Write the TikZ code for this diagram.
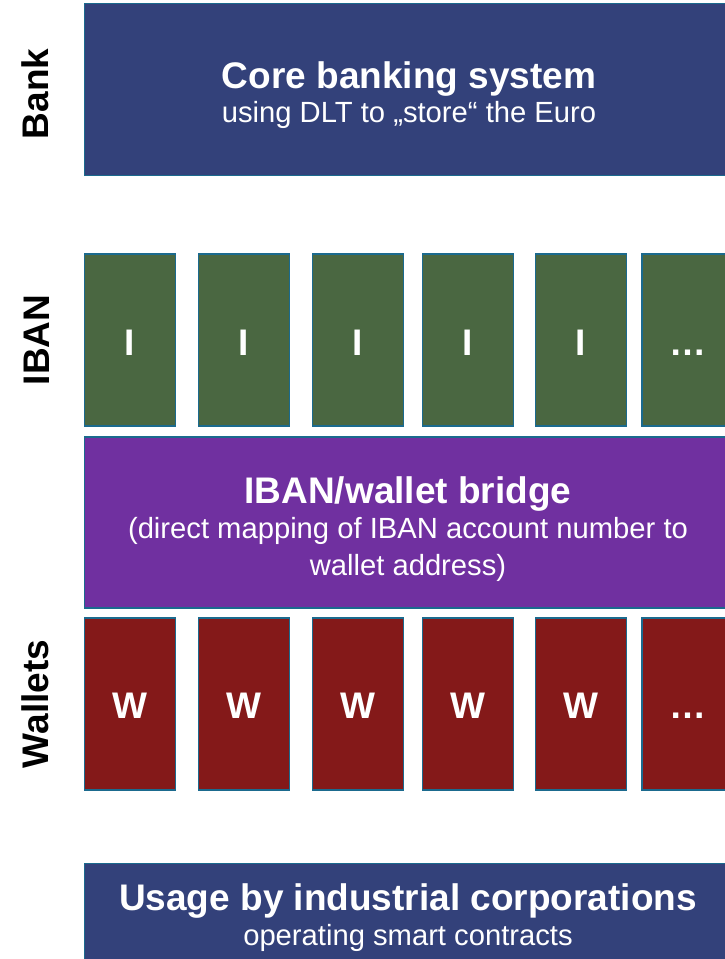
\documentclass[tikz,border=0pt]{standalone}
\usepackage{fontspec}
\setmainfont{Liberation Sans}
\definecolor{banknavy}{HTML}{33417A}
\definecolor{ibangreen}{HTML}{4A6741}
\definecolor{bridgepurple}{HTML}{7030A0}
\definecolor{walletred}{HTML}{841919}
\definecolor{edgeblue}{HTML}{1B6A8E}
\begin{document}
\begin{tikzpicture}[x=1pt,y=-1pt,
  panel/.style={draw=edgeblue, line width=1.4pt, inner sep=0pt, outer sep=0pt,
                anchor=north west, minimum width=#1},
  panel/.default=655pt,
  cell/.style={panel=91pt, minimum height=172pt},
  headline/.style={text=white, anchor=base, inner sep=0pt,
                   font=\fontsize{37}{44}\selectfont\bfseries},
  subline/.style={text=white, anchor=base, inner sep=0pt,
                  font=\fontsize{29.2}{37}\selectfont},
  celltext/.style={text=white, anchor=base, inner sep=0pt,
                   font=\fontsize{37}{44}\selectfont\bfseries},
  sidelabel/.style={text=black, anchor=base, rotate=90, inner sep=0pt,
                    font=\fontsize{37}{44}\selectfont\bfseries}]
\useasboundingbox (0,0) rectangle (725,959);
\clip (0,0) rectangle (725,959);

% Bank layer
\node[panel, fill=banknavy, minimum height=172pt] (core) at (84.5,3.5) {};
\node[headline] (coretitle) at (409,88) {Core banking system};
\node[subline] (coresub) at (409,122) {using DLT to „store“ the Euro};

% IBAN accounts
\foreach \x/\t [count=\i] in {84.5/I,198.5/I,312.5/I,422.5/I,535.5/I,642/\dots}{
  \node[cell, fill=ibangreen] (iban\i) at (\x,254) {};
  \node[celltext] (ibantext\i) at (\x+45.5,355) {\t};
}

% Bridge between IBAN and wallets
\node[panel, fill=bridgepurple, minimum height=171pt] (bridge) at (84.5,437) {};
\node[headline] (bridgetitle) at (408,503) {IBAN/wallet bridge};
\node[subline] (bridgeline1) at (408,538) {(direct mapping of IBAN account number to};
\node[subline] (bridgeline2) at (408,575) {wallet address)};

% Wallets
\foreach \x/\t [count=\i] in {84.5/W,198.5/W,312.5/W,422.5/W,535.5/W,642/\dots}{
  \node[cell, fill=walletred] (wallet\i) at (\x,618) {};
  \node[celltext] (wallettext\i) at (\x+45.5,718) {\t};
}

% Corporate usage
\node[panel, fill=banknavy, minimum height=110pt] (usage) at (84.5,863.5) {};
\node[headline] (usagetitle) at (408,910) {Usage by industrial corporations};
\node[subline] (usagesub) at (408,945) {operating smart contracts};

% Layer labels
\node[sidelabel] (banklabel) at (48,94) {Bank};
\node[sidelabel] (ibanlabel) at (49,340) {IBAN};
\node[sidelabel] (walletlabel) at (48,704) {Wallets};
\end{tikzpicture}
\end{document}
